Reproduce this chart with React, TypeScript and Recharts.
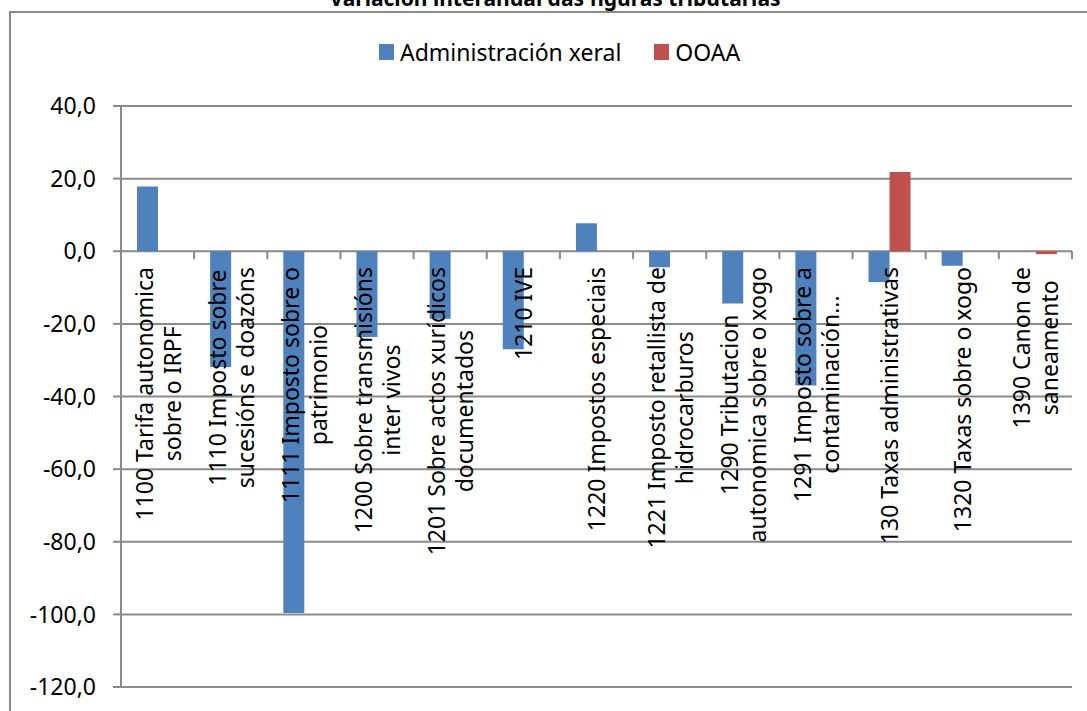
import { Bar, BarChart, CartesianGrid, XAxis, YAxis } from 'recharts'

const categories = [
  '1100 Tarifa autonomica\nsobre o IRPF',
  '1110 Imposto sobre\nsucesións e doazóns',
  '1111 Imposto sobre o\npatrimonio',
  '1200 Sobre transmisións\ninter vivos',
  '1201 Sobre actos xurídicos\ndocumentados',
  '1210 IVE',
  '1220 Impostos especiais',
  '1221 Imposto retallista de\nhidrocarburos',
  '1290 Tributacion\nautonomica sobre o xogo',
  '1291 Imposto sobre a\ncontaminación...',
  '130 Taxas administrativas',
  '1320 Taxas sobre o xogo',
  '1390 Canon de\nsaneamento',
]
const adminValues = [17.8, -31.9, -99.6, -23.6, -18.6, -27.0, 7.7, -4.4, -14.4, -37.0, -8.5, -4.0, null]
const ooaaValues = [null, null, null, null, null, null, null, null, null, null, 21.8, null, -0.8]
const yTicks = [-120, -100, -80, -60, -40, -20, 0, 20, 40]
const seriesNames = ['Administración xeral', 'OOAA']

const data = categories.map((name, i) => ({
  name,
  admin: adminValues[i],
  ooaa: ooaaValues[i],
}))

const FONT = "'Noto Sans', sans-serif"
const GRAY = '#8a8a8a'
const W = 1087
const H = 711
const TOP = 106
const LEFT = 121
const RIGHT = 15
const XH = 24
const PLOT_W = W - LEFT - RIGHT
const PLOT_H = H - TOP - XH
const BAND = PLOT_W / categories.length
const ZERO_Y = TOP + (40 / 160) * PLOT_H
const LABEL_TOP = 267
const LINE_H = 28

let ctx: CanvasRenderingContext2D | null = null
function textWidth(s: string) {
  if (!ctx) {
    ctx = document.createElement('canvas').getContext('2d')
    if (ctx) ctx.font = `23px ${FONT}`
  }
  return ctx ? ctx.measureText(s).width : s.length * 11
}

function CatTick(props: any) {
  const { x, payload, index } = props
  const lines = String(payload.value).split('\n')
  const maxW = Math.max(...lines.map(textWidth))
  const cy = LABEL_TOP + maxW / 2
  return (
    <g>
      <line x1={x - BAND / 2} x2={x - BAND / 2} y1={ZERO_Y} y2={ZERO_Y + 8} stroke={GRAY} strokeWidth={2} />
      {index === categories.length - 1 && (
        <line x1={x + BAND / 2} x2={x + BAND / 2} y1={ZERO_Y} y2={ZERO_Y + 8} stroke={GRAY} strokeWidth={2} />
      )}
      {lines.map((l, i) => {
        const cx = x + (i - (lines.length - 1) / 2) * LINE_H
        return (
          <text
            key={i}
            x={cx}
            y={cy}
            transform={`rotate(-90 ${cx} ${cy})`}
            textAnchor="middle"
            dominantBaseline="central"
            fill="#000"
            fontSize={23}
            fontFamily={FONT}
          >
            {l}
          </text>
        )
      })}
    </g>
  )
}

const colors = ['#4F81BD', '#C0504D']

function LegendBox() {
  return (
    <div
      style={{
        position: 'absolute',
        left: 379,
        top: 40,
        display: 'flex',
        alignItems: 'center',
        fontFamily: FONT,
        fontSize: 23,
        lineHeight: '24px',
        color: '#000',
      }}
    >
      {seriesNames.map((n, i) => (
        <div key={n} style={{ display: 'flex', alignItems: 'center', marginRight: i === 0 ? 33 : 0 }}>
          <span style={{ width: 15, height: 16, background: colors[i], marginRight: 6, display: 'inline-block' }} />
          <span>{n}</span>
        </div>
      ))}
    </div>
  )
}

export default function App() {
  return (
    <div style={{ position: 'absolute', left: 0, top: 0, width: W, height: H, overflow: 'hidden', background: '#fff' }}>
      <div
        style={{
          position: 'absolute',
          left: 9,
          top: 11,
          width: 1200,
          height: 900,
          border: `2px solid ${GRAY}`,
        }}
      />
      <div
        style={{
          position: 'absolute',
          left: 0,
          width: 1110,
          top: -12,
          textAlign: 'center',
          fontFamily: FONT,
          fontWeight: 700,
          fontSize: 21,
          lineHeight: '21px',
          color: '#000',
        }}
      >
        Variación interanual das figuras tributarias
      </div>
      <div style={{ position: 'absolute', left: 0, top: 0 }}>
        <BarChart
          width={W}
          height={H}
          data={data}
          margin={{ top: TOP, right: RIGHT, left: 0, bottom: 0 }}
          barGap={0}
        >
          <CartesianGrid vertical={false} stroke={GRAY} strokeWidth={2} />
          <XAxis
            dataKey="name"
            axisLine={false}
            tickLine={false}
            interval={0}
            height={XH}
            tick={(p: any) => <CatTick {...p} />}
          />
          <YAxis
            domain={[-120, 40]}
            ticks={yTicks}
            width={LEFT}
            interval={0}
            tickFormatter={(v: number) => v.toFixed(1).replace('.', ',')}
            tick={{ fill: '#000', fontSize: 23, fontFamily: FONT }}
            axisLine={{ stroke: GRAY, strokeWidth: 2 }}
            tickLine={{ stroke: GRAY, strokeWidth: 2 }}
            tickSize={8}
            tickMargin={17}
          />
          <Bar dataKey="admin" name={seriesNames[0]} fill={colors[0]} barSize={21} isAnimationActive={false} />
          <Bar dataKey="ooaa" name={seriesNames[1]} fill={colors[1]} barSize={21} isAnimationActive={false} />
        </BarChart>
      </div>
      <LegendBox />
    </div>
  )
}
